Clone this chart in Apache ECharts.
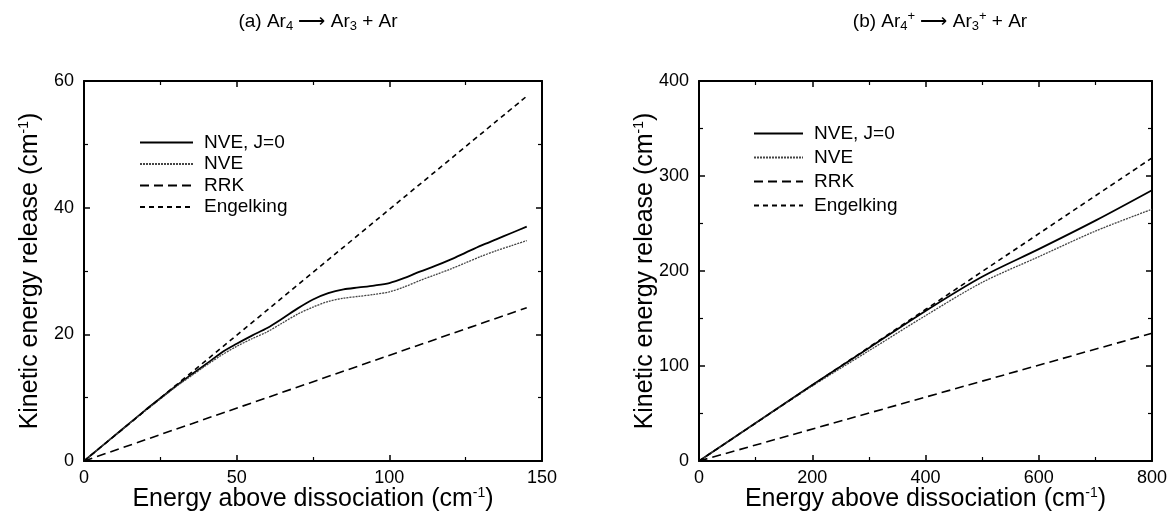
<!DOCTYPE html>
<html>
<head>
<meta charset="utf-8">
<script src="https://cdn.jsdelivr.net/npm/echarts@6/dist/echarts.min.js"></script>
<style>html,body{margin:0;padding:0;background:#fff;}#c{width:1169px;height:517px;}</style>
</head>
<body>
<div id="c"></div>
<script>
// ---- Data ----
const seriesNames = ['NVE, J=0', 'NVE', 'RRK', 'Engelking'];

// Panel (a): Ar4 -> Ar3 + Ar
const aEnergy = [0, 10, 20, 25, 30, 35, 40, 45, 50, 55, 60, 65, 70, 75, 80, 85, 90, 95, 100, 105, 110, 115, 120, 125, 130, 135, 140, 145];
const aNveJ0  = [0, 4.0, 8.0, 9.9, 11.8, 13.6, 15.3, 17.1, 18.5, 19.8, 21.0, 22.5, 24.1, 25.5, 26.5, 27.1, 27.4, 27.7, 28.1, 28.9, 29.9, 30.8, 31.8, 32.9, 34.0, 35.0, 36.0, 37.0];
const aNve    = [0, 4.0, 7.9, 9.8, 11.7, 13.4, 15.1, 16.7, 18.1, 19.3, 20.4, 21.8, 23.2, 24.3, 25.2, 25.7, 26.0, 26.3, 26.7, 27.5, 28.5, 29.4, 30.3, 31.3, 32.3, 33.2, 34.0, 34.8];
const aRrkE   = [0, 145];
const aRrk    = [0, 24.2];
const aEngE   = [0, 145];
const aEng    = [0, 57.6];

// Panel (b): Ar4+ -> Ar3+ + Ar
const bEnergy = [0, 100, 200, 300, 400, 500, 600, 700, 800];
const bNveJ0  = [0, 40, 80, 119, 158, 194, 223, 253, 285];
const bNve    = [0, 40, 79, 116, 153, 188, 215, 242, 265];
const bRrkE   = [0, 800];
const bRrk    = [0, 134.5];
const bEngE   = [0, 800];
const bEng    = [0, 319];

// Axis ranges / ticks
const aX = {min: 0, max: 150, interval: 50};
const aY = {min: 0, max: 60, interval: 20};
const bX = {min: 0, max: 800, interval: 200};
const bY = {min: 0, max: 400, interval: 100};

const titleA = '(a) Ar{sub|4} \u27F6 Ar{sub|3} + Ar';
const titleB = '(b) Ar{sub|4}{sup|+} \u27F6 Ar{sub|3}{sup|+} + Ar';
const xName = 'Energy above dissociation (cm{sup|-1})';
const yName = 'Kinetic energy release (cm{sup|-1})';

// ---- Build ----
const FONT = 'Liberation Sans, Arial, Helvetica, sans-serif';
const pair = (xs, ys) => xs.map((x, i) => [x, ys[i]]);
const styles = [
  {color: '#000', width: 1.8, type: 'solid'},
  {color: '#444', width: 1.3, type: [2, 1]},
  {color: '#000', width: 1.6, type: [9, 5]},
  {color: '#000', width: 1.6, type: [5, 4]}
];
const NAME_FS = 25;
const nameRich = {
  sup: {fontSize: 14, fontFamily: FONT, color: '#000', padding: [0, 0, 13, 0]}
};
const titleRich = {
  sub: {fontSize: 13, fontFamily: FONT, color: '#000', padding: [10, 0, 0, 0]},
  sup: {fontSize: 13, fontFamily: FONT, color: '#000', padding: [0, 0, 10, 0]}
};
function xAxes(g, r, showLabel) {
  return {
    type: 'value', gridIndex: g, min: r.min, max: r.max, interval: r.interval,
    position: showLabel ? 'bottom' : 'top',
    name: showLabel ? xName : '', nameLocation: 'middle', nameGap: 25, nameMoveOverlap: false,
    nameTextStyle: {fontSize: NAME_FS, fontFamily: FONT, color: '#000', rich: nameRich},
    axisLine: {show: true, onZero: false, lineStyle: {color: '#000', width: 2}},
    axisTick: {show: true, inside: true, length: 6, lineStyle: {color: '#000', width: 1.5}},
    minorTick: {show: true, splitNumber: 2, length: 4, lineStyle: {color: '#000', width: 1.2}},
    axisLabel: {show: showLabel, fontSize: 18, fontFamily: FONT, color: '#000', margin: 8},
    splitLine: {show: false}
  };
}
function yAxes(g, r, showLabel) {
  return {
    type: 'value', gridIndex: g, min: r.min, max: r.max, interval: r.interval,
    position: showLabel ? 'left' : 'right',
    name: showLabel ? yName : '', nameLocation: 'middle', nameGap: showLabel ? 40 : 0, nameMoveOverlap: false,
    nameTextStyle: {fontSize: NAME_FS, fontFamily: FONT, color: '#000', rich: nameRich},
    axisLine: {show: true, onZero: false, lineStyle: {color: '#000', width: 2}},
    axisTick: {show: true, inside: true, length: 6, lineStyle: {color: '#000', width: 1.5}},
    minorTick: {show: true, splitNumber: 2, length: 4, lineStyle: {color: '#000', width: 1.2}},
    axisLabel: {show: showLabel, fontSize: 18, fontFamily: FONT, color: '#000', margin: 10},
    splitLine: {show: false}
  };
}
function mk(name, data, xi, yi, st) {
  return {
    name: name, type: 'line', xAxisIndex: xi, yAxisIndex: yi, data: data,
    showSymbol: false, symbol: 'none', smooth: 0.3, animation: false,
    lineStyle: {color: st.color, width: st.width, type: st.type}, itemStyle: {color: st.color}
  };
}
const legendCommon = {
  orient: 'vertical', itemHeight: 14,
  itemStyle: {opacity: 0, borderWidth: 0},
  textStyle: {fontSize: 19, fontFamily: FONT, color: '#000', padding: [0, 0, 0, 6]},
  data: seriesNames, selectedMode: false
};
const option = {
  backgroundColor: '#fff',
  animation: false,
  title: [
    {text: titleA, left: 313, top: 5, textAlign: 'center',
     textStyle: {fontSize: 19, fontWeight: 'normal', fontFamily: FONT, color: '#000', rich: titleRich}},
    {text: titleB, left: 935, top: 5, textAlign: 'center',
     textStyle: {fontSize: 19, fontWeight: 'normal', fontFamily: FONT, color: '#000', rich: titleRich}}
  ],
  legend: [
    Object.assign({}, legendCommon, {left: 134, top: 128, itemWidth: 53, itemGap: 2.5}),
    Object.assign({}, legendCommon, {left: 748, top: 119, itemWidth: 49, itemGap: 5})
  ],
  grid: [
    {left: 84, top: 81, width: 458, height: 380, outerBoundsMode: 'none', containLabel: false},
    {left: 699, top: 81, width: 453, height: 380, outerBoundsMode: 'none', containLabel: false}
  ],
  xAxis: [xAxes(0, aX, true), xAxes(0, aX, false), xAxes(1, bX, true), xAxes(1, bX, false)],
  yAxis: [yAxes(0, aY, true), yAxes(0, aY, false), yAxes(1, bY, true), yAxes(1, bY, false)],
  series: [
    mk(seriesNames[0], pair(aEnergy, aNveJ0), 0, 0, styles[0]),
    mk(seriesNames[1], pair(aEnergy, aNve), 0, 0, styles[1]),
    mk(seriesNames[2], pair(aRrkE, aRrk), 0, 0, styles[2]),
    mk(seriesNames[3], pair(aEngE, aEng), 0, 0, styles[3]),
    mk(seriesNames[0], pair(bEnergy, bNveJ0), 2, 2, styles[0]),
    mk(seriesNames[1], pair(bEnergy, bNve), 2, 2, styles[1]),
    mk(seriesNames[2], pair(bRrkE, bRrk), 2, 2, styles[2]),
    mk(seriesNames[3], pair(bEngE, bEng), 2, 2, styles[3])
  ]
};
const chart = echarts.init(document.getElementById('c'), null, {renderer: 'canvas'});
chart.setOption(option);
</script>
</body>
</html>
